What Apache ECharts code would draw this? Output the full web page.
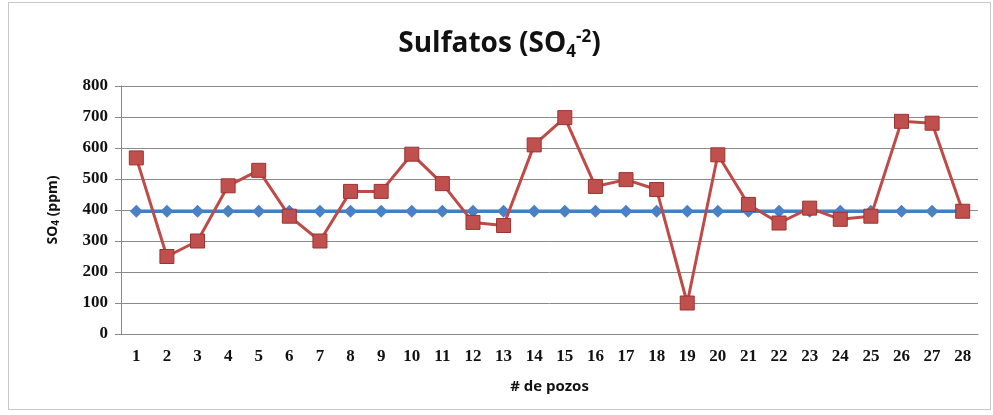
<!DOCTYPE html>
<html>
<head>
<meta charset="utf-8">
<script src="https://cdn.jsdelivr.net/npm/echarts@6/dist/echarts.min.js"></script>
<style>
  html, body { margin: 0; padding: 0; background: #fff; }
  #chart { position: absolute; left: 8px; top: 2px; width: 983px; height: 408px;
           border: 1px solid #c8c8c8; box-sizing: border-box; }
</style>
</head>
<body>
<div id="chart"></div>
<script>
// datos
var pozos = ['1','2','3','4','5','6','7','8','9','10','11','12','13','14',
             '15','16','17','18','19','20','21','22','23','24','25','26','27','28'];
var sulfatos = [568, 250, 300, 478, 528, 380, 300, 460, 460, 580, 485, 360, 350, 610,
                698, 476, 498, 466, 100, 578, 418, 358, 406, 370, 380, 686, 680, 396];
var limite = [396, 396, 396, 396, 396, 396, 396, 396, 396, 396, 396, 396, 396, 396,
              396, 396, 396, 396, 396, 396, 396, 396, 396, 396, 396, 396, 396, 396];

var chart = echarts.init(document.getElementById('chart'));
chart.setOption({
  animation: false,
  title: {
    text: '{t|Sulfatos (SO}{sub|4}{sup|-2}{t|)}',
    left: 'center',
    top: 20,
    textStyle: {
      rich: {
        t: { fontFamily: 'Open Sans', fontWeight: 'bold', fontSize: 28, color: '#111' },
        sub: { fontFamily: 'Open Sans', fontWeight: 'bold', fontSize: 17, color: '#111', padding: [16, 0, 0, 0] },
        sup: { fontFamily: 'Open Sans', fontWeight: 'bold', fontSize: 17, color: '#111', padding: [0, 0, 14, 0] }
      }
    }
  },
  grid: { left: 112, right: 12, top: 83, bottom: 75 },
  xAxis: {
    type: 'category',
    data: pozos,
    name: '# de pozos',
    nameLocation: 'middle',
    nameGap: 45,
    nameTextStyle: { fontFamily: 'Open Sans', fontWeight: 'bold', fontSize: 15, color: '#111' },
    axisLine: { lineStyle: { color: '#888' } },
    axisTick: { show: false },
    axisLabel: { fontFamily: 'Liberation Serif', fontWeight: 'bold', fontSize: 17, color: '#111', margin: 14 }
  },
  yAxis: {
    type: 'value',
    min: 0,
    max: 800,
    interval: 100,
    name: '{t|SO}{sub|4}{t| (ppm)}',
    nameLocation: 'middle',
    nameGap: 60,
    nameTextStyle: {
      rich: {
        t: { fontFamily: 'Open Sans', fontWeight: 'bold', fontSize: 14, color: '#111' },
        sub: { fontFamily: 'Open Sans', fontWeight: 'bold', fontSize: 10, color: '#111', padding: [6, 0, 0, 0] }
      }
    },
    axisLine: { show: true, lineStyle: { color: '#888' } },
    axisTick: { show: true, length: 6, lineStyle: { color: '#888' } },
    axisLabel: { fontFamily: 'Liberation Serif', fontWeight: 'bold', fontSize: 17, color: '#111', margin: 13 },
    splitLine: { lineStyle: { color: '#8a8a8a', width: 1 } }
  },
  series: [{
    name: 'Limite',
    type: 'line',
    data: limite,
    symbol: 'diamond',
    symbolSize: 13,
    lineStyle: { color: '#3f7fc4', width: 3.5 },
    itemStyle: { color: '#4a80c4' },
    z: 2
  }, {
    name: 'Sulfatos',
    type: 'line',
    data: sulfatos,
    symbol: 'rect',
    symbolSize: 14,
    lineStyle: { color: '#be4b48', width: 3 },
    itemStyle: { color: '#c0504d', borderColor: '#9c3330', borderWidth: 1 },
    z: 3
  }]
});
</script>
</body>
</html>
